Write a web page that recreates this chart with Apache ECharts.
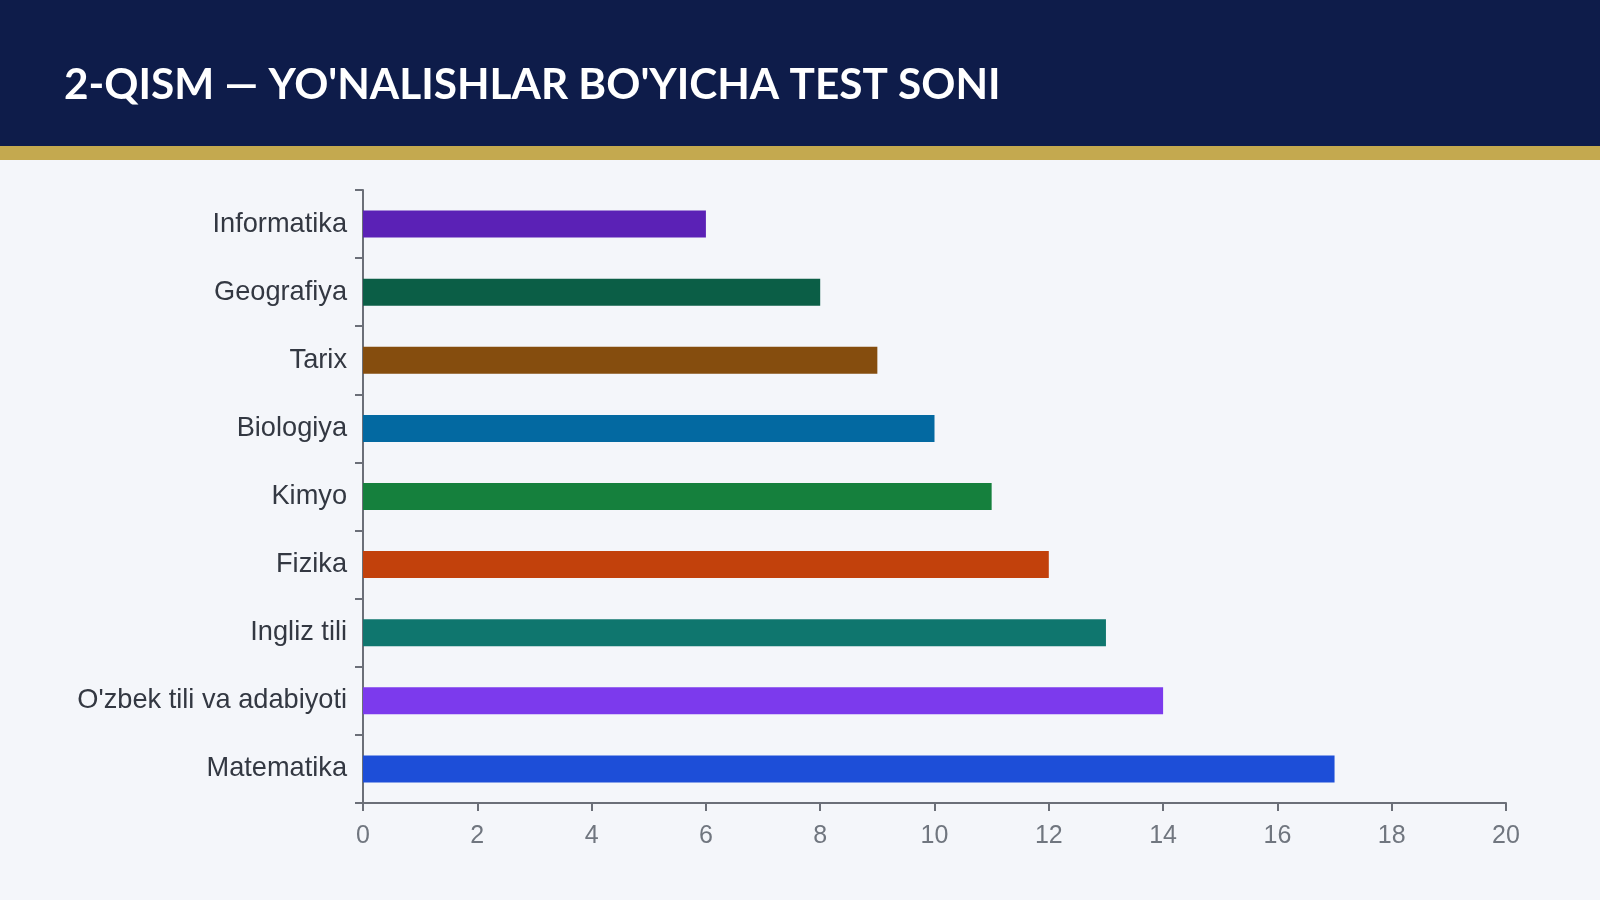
<!DOCTYPE html>
<html>
<head>
<meta charset="utf-8">
<script src="https://cdn.jsdelivr.net/npm/echarts@6/dist/echarts.min.js"></script>
<style>
html,body{margin:0;padding:0;background:#f4f6fa;}
#chart{width:1600px;height:900px;}
</style>
</head>
<body>
<div id="chart"></div>
<script>
const titleText = "2-QISM — YO'NALISHLAR BO'YICHA TEST SONI";
const categories = ["Informatika","Geografiya","Tarix","Biologiya","Kimyo","Fizika","Ingliz tili","O'zbek tili va adabiyoti","Matematika"];
const values = [6, 8, 9, 10, 11, 12, 13, 14, 17];
const barColors = ["#5b21b6","#0b5e46","#854d0e","#0369a1","#15803d","#c2410c","#0f766e","#7c3aed","#1d4ed8"];
const xTicks = [0, 2, 4, 6, 8, 10, 12, 14, 16, 18, 20];

const chart = echarts.init(document.getElementById('chart'));
chart.setOption({
  backgroundColor: '#f4f6fa',
  animation: false,
  graphic: [
    { type: 'rect', shape: { x: 0, y: 0, width: 1600, height: 146 }, style: { fill: '#0e1c4a' }, silent: true },
    { type: 'rect', shape: { x: 0, y: 146, width: 1600, height: 14 }, style: { fill: '#c4a94f' }, silent: true },
    { type: 'text', left: 64, top: 64, style: { text: titleText, fill: '#ffffff', font: 'bold 42.3px Lato' }, silent: true }
  ],
  grid: { left: 363, right: 94, top: 190, bottom: 97, containLabel: false },
  xAxis: {
    type: 'value', min: xTicks[0], max: xTicks[xTicks.length - 1], interval: 2,
    axisLine: { show: true, lineStyle: { color: '#6b6f78', width: 2 } },
    axisTick: { show: true, length: 8, lineStyle: { color: '#6b6f78', width: 2 } },
    axisLabel: { color: '#70767f', fontSize: 25, margin: 21, fontFamily: 'Liberation Sans' },
    splitLine: { show: false }
  },
  yAxis: {
    type: 'category', data: categories, inverse: true,
    axisLine: { show: true, lineStyle: { color: '#6b6f78', width: 2 } },
    axisTick: { show: true, length: 8, lineStyle: { color: '#6b6f78', width: 2 } },
    axisLabel: { color: '#333842', fontSize: 27.2, margin: 16, padding: [2, 0, 0, 0], fontFamily: 'Liberation Sans' }
  },
  series: [{
    type: 'bar',
    barWidth: 27,
    data: values.map((v, i) => ({ value: v, itemStyle: { color: barColors[i] } }))
  }]
});
</script>
</body>
</html>
